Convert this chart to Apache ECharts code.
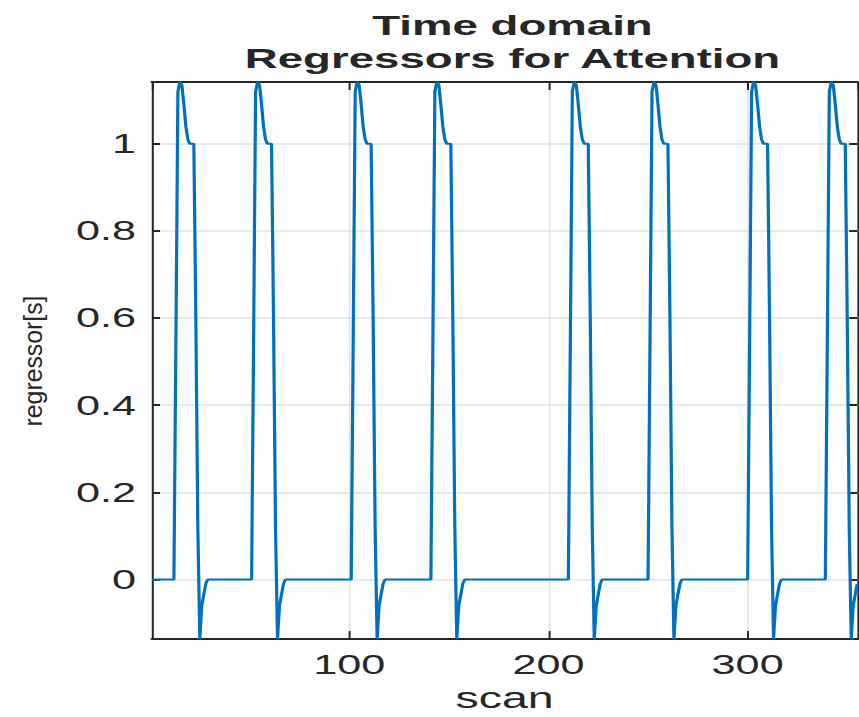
<!DOCTYPE html>
<html>
<head>
<meta charset="utf-8">
<script src="https://cdn.jsdelivr.net/npm/echarts@6/dist/echarts.min.js"></script>
<style>
  html, body { margin: 0; padding: 0; background: #fff; overflow: hidden; }
  #frame { width: 859px; height: 717px; overflow: hidden; position: relative; }
  #chart { height: 717px; transform-origin: 0 0; }
</style>
</head>
<body>
<div id="frame"><div id="chart"></div></div>
<script>
// Block regressor sampled per scan (breakpoints; flat stretches are joined by straight segments)
const scans = [
  1,
  12, 13, 14, 15, 16, 17, 18, 19, 20, 21, 22, 23, 24, 25, 26, 27, 28, 29,
  51, 52, 53, 54, 55, 56, 57, 58, 59, 60, 61, 62, 63, 64, 65, 66, 67, 68,
  101, 102, 103, 104, 105, 106, 107, 108, 109, 110, 111, 112, 113, 114, 115, 116, 117, 118,
  141, 142, 143, 144, 145, 146, 147, 148, 149, 150, 151, 152, 153, 154, 155, 156, 157, 158,
  210, 211, 212, 213, 214, 215, 216, 217, 218, 219, 220, 221, 222, 223, 224, 225, 226, 227,
  250, 251, 252, 253, 254, 255, 256, 257, 258, 259, 260, 261, 262, 263, 264, 265, 266, 267,
  300, 301, 302, 303, 304, 305, 306, 307, 308, 309, 310, 311, 312, 313, 314, 315, 316, 317,
  339, 340, 341, 342, 343, 344, 345, 346, 347, 348, 349, 350, 351, 352, 353, 354, 355
];
const regressor = [
  0,
  0, 0.55, 1.12, 1.142, 1.135, 1.09, 1.04, 1.01, 1.00, 1.00, 1.00, 0.60, 0.12, -0.137, -0.06, -0.035, -0.01, 0,
  0, 0.55, 1.12, 1.142, 1.135, 1.09, 1.04, 1.01, 1.00, 1.00, 1.00, 0.60, 0.12, -0.137, -0.06, -0.035, -0.01, 0,
  0, 0.55, 1.12, 1.142, 1.135, 1.09, 1.04, 1.01, 1.00, 1.00, 1.00, 0.60, 0.12, -0.137, -0.06, -0.035, -0.01, 0,
  0, 0.55, 1.12, 1.142, 1.135, 1.09, 1.04, 1.01, 1.00, 1.00, 1.00, 0.60, 0.12, -0.137, -0.06, -0.035, -0.01, 0,
  0, 0.55, 1.12, 1.142, 1.135, 1.09, 1.04, 1.01, 1.00, 1.00, 1.00, 0.60, 0.12, -0.137, -0.06, -0.035, -0.01, 0,
  0, 0.55, 1.12, 1.142, 1.135, 1.09, 1.04, 1.01, 1.00, 1.00, 1.00, 0.60, 0.12, -0.137, -0.06, -0.035, -0.01, 0,
  0, 0.55, 1.12, 1.142, 1.135, 1.09, 1.04, 1.01, 1.00, 1.00, 1.00, 0.60, 0.12, -0.137, -0.06, -0.035, -0.01, 0,
  0, 0.55, 1.12, 1.142, 1.135, 1.09, 1.04, 1.01, 1.00, 1.00, 1.00, 0.60, 0.12, -0.137, -0.06, -0.035, -0.01
];
const xTickLabels = [100, 200, 300];
const yTickLabels = [0, 0.2, 0.4, 0.6, 0.8, 1];
const xRange = [1, 355];
const yRange = [-0.137, 1.142];
const titleLines = ['Time domain', 'Regressors for Attention'];
const xName = 'scan';
const yName = 'regressor[s]';

// The figure is laid out narrow and widened horizontally as a whole.
const STRETCH = 1.6;
const W = 859 / STRETCH;
const el = document.getElementById('chart');
el.style.width = W + 'px';
el.style.transform = 'scaleX(' + STRETCH + ')';

const FONT = '"Liberation Sans", Arial, Helvetica, sans-serif';
const INK = '#262626';
const GRID = '#e3e3e3';
const plotLeft = 152 / STRETCH;
const plotRight = 2 / STRETCH;

const isTick = (list, v) => list.some(t => Math.abs(t - v) < 1e-9);

const chart = echarts.init(el, null, { renderer: 'svg' });
chart.setOption({
  animation: false,
  backgroundColor: '#fff',
  title: {
    text: titleLines.join('\n'),
    left: plotLeft + (W - plotLeft - plotRight) / 2,
    textAlign: 'center',
    top: 4,
    textStyle: { fontFamily: FONT, fontWeight: 'bold', fontSize: 28.5, lineHeight: 33, color: INK }
  },
  grid: { left: plotLeft, right: plotRight, top: 82, bottom: 76 },
  xAxis: [{
    type: 'value', min: xRange[0], max: xRange[1], splitNumber: 4,
    name: xName, nameLocation: 'middle', nameGap: 38,
    nameTextStyle: { fontFamily: FONT, fontSize: 29, color: INK },
    axisLine: { onZero: false, lineStyle: { color: INK, width: 2 } },
    axisTick: { inside: true, length: 8, lineStyle: { color: INK, width: 1.25 } },
    axisLabel: {
      margin: 12, fontFamily: FONT, fontSize: 27, color: INK,
      showMinLabel: false, showMaxLabel: false,
      formatter: v => isTick(xTickLabels, v) ? String(v) : ''
    },
    splitLine: { show: true, lineStyle: { color: GRID, width: 1 } }
  }, {
    type: 'value', position: 'top', min: xRange[0], max: xRange[1], splitNumber: 4,
    axisLine: { onZero: false, lineStyle: { color: INK, width: 2 } },
    axisTick: { inside: true, length: 8, lineStyle: { color: INK, width: 1.25 } },
    axisLabel: { show: false }, splitLine: { show: false }
  }],
  yAxis: [{
    type: 'value', min: yRange[0], max: yRange[1], splitNumber: 6,
    axisLine: { onZero: false, lineStyle: { color: INK, width: 1.25 } },
    axisTick: { inside: true, length: 5, lineStyle: { color: INK, width: 2 } },
    axisLabel: {
      margin: 10, fontFamily: FONT, fontSize: 27, color: INK,
      showMinLabel: false, showMaxLabel: false,
      formatter: v => isTick(yTickLabels, v) ? String(+v.toFixed(1)) : ''
    },
    splitLine: { show: true, lineStyle: { color: GRID, width: 1.5 } }
  }, {
    type: 'value', position: 'right', min: yRange[0], max: yRange[1], splitNumber: 6,
    axisLine: { onZero: false, lineStyle: { color: INK, width: 1.25 } },
    axisTick: { inside: true, length: 5, lineStyle: { color: INK, width: 2 } },
    axisLabel: { show: false }, splitLine: { show: false }
  }],
  graphic: [{
    type: 'text',
    x: 33 / STRETCH, y: 361,
    rotation: Math.PI / 2,
    scaleX: 1.55,
    style: { text: yName, font: '16px ' + FONT, fill: INK, align: 'center', verticalAlign: 'middle' }
  }],
  series: [{
    type: 'line',
    xAxisIndex: 0, yAxisIndex: 0,
    data: scans.map((s, i) => [s, regressor[i]]),
    showSymbol: false,
    clip: true,
    lineStyle: { color: '#0072BD', width: 2 }
  }]
});
</script>
</body>
</html>
